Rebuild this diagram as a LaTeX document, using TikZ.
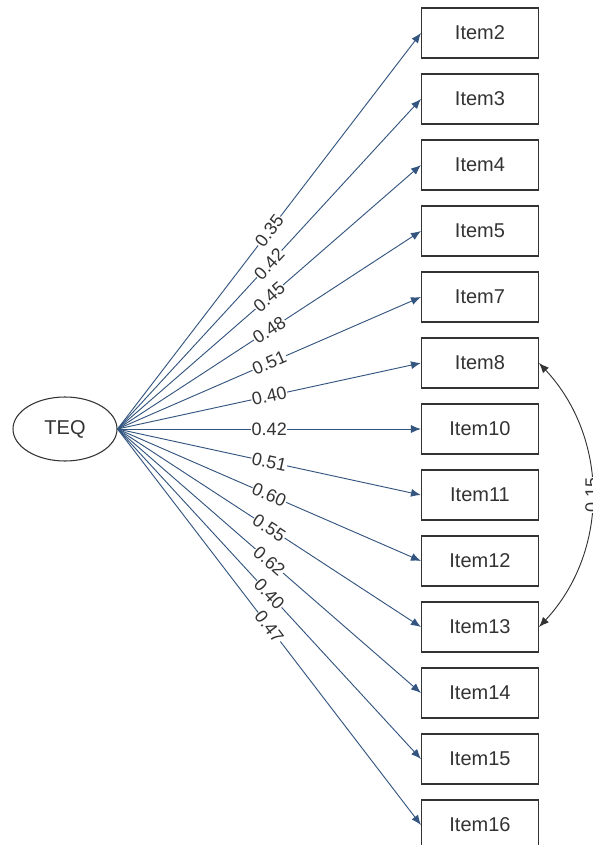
\documentclass[tikz,border=0pt]{standalone}
\usepackage{fontspec}
\setmainfont{Liberation Sans}
\usetikzlibrary{shapes,arrows.meta,positioning}
\definecolor{pathblue}{HTML}{34557F}
\definecolor{boxgray}{HTML}{333333}

\begin{document}
\begin{tikzpicture}[x=0.75pt, y=-0.75pt]
  \tikzstyle{latent}=[ellipse, draw=boxgray, thick, minimum width=78pt, minimum height=48pt, font=\fontsize{15}{17}\selectfont, text=boxgray]
  \tikzstyle{item}=[rectangle, draw=boxgray, thick, minimum width=87.75pt, minimum height=37.5pt, font=\fontsize{15}{17}\selectfont, text=boxgray]
  \tikzstyle{loading}=[-{Latex[length=7.5pt, width=6pt]}, draw=pathblue, line width=0.7pt]
  \tikzstyle{coef}=[midway, sloped, fill=white, inner sep=0.5pt, font=\fontsize{13.5}{15}\selectfont, text=boxgray]

  \useasboundingbox (0,0) rectangle (592,845);

  % Latent factor
  \node[latent] (teq) at (65,429) {TEQ};

  % Observed items
  \node[item] (i2) at (480,33) {Item2};
  \node[item] (i3) at (480,99) {Item3};
  \node[item] (i4) at (480,165) {Item4};
  \node[item] (i5) at (480,231) {Item5};
  \node[item] (i7) at (480,297) {Item7};
  \node[item] (i8) at (480,363) {Item8};
  \node[item] (i10) at (480,429) {Item10};
  \node[item] (i11) at (480,495) {Item11};
  \node[item] (i12) at (480,561) {Item12};
  \node[item] (i13) at (480,627) {Item13};
  \node[item] (i14) at (480,693) {Item14};
  \node[item] (i15) at (480,759) {Item15};
  \node[item] (i16) at (480,825) {Item16};

  % Factor loadings
  \draw[loading] (teq.east) -- node[coef] {0.35} (i2.west);
  \draw[loading] (teq.east) -- node[coef] {0.42} (i3.west);
  \draw[loading] (teq.east) -- node[coef] {0.45} (i4.west);
  \draw[loading] (teq.east) -- node[coef] {0.48} (i5.west);
  \draw[loading] (teq.east) -- node[coef] {0.51} (i7.west);
  \draw[loading] (teq.east) -- node[coef] {0.40} (i8.west);
  \draw[loading] (teq.east) -- node[coef] {0.42} (i10.west);
  \draw[loading] (teq.east) -- node[coef] {0.51} (i11.west);
  \draw[loading] (teq.east) -- node[coef] {0.60} (i12.west);
  \draw[loading] (teq.east) -- node[coef] {0.55} (i13.west);
  \draw[loading] (teq.east) -- node[coef] {0.62} (i14.west);
  \draw[loading] (teq.east) -- node[coef] {0.40} (i15.west);
  \draw[loading] (teq.east) -- node[coef] {0.47} (i16.west);

  % Error covariance
  \draw[{Latex[length=7.5pt, width=6pt]}-{Latex[length=7.5pt, width=6pt]}, draw=boxgray, line width=0.7pt]
    (i8.east) to[bend left=43] node[midway, rotate=90, fill=white, inner sep=0.5pt, font=\fontsize{13.5}{15}\selectfont, text=boxgray] {0.15} (i13.east);
\end{tikzpicture}
\end{document}
